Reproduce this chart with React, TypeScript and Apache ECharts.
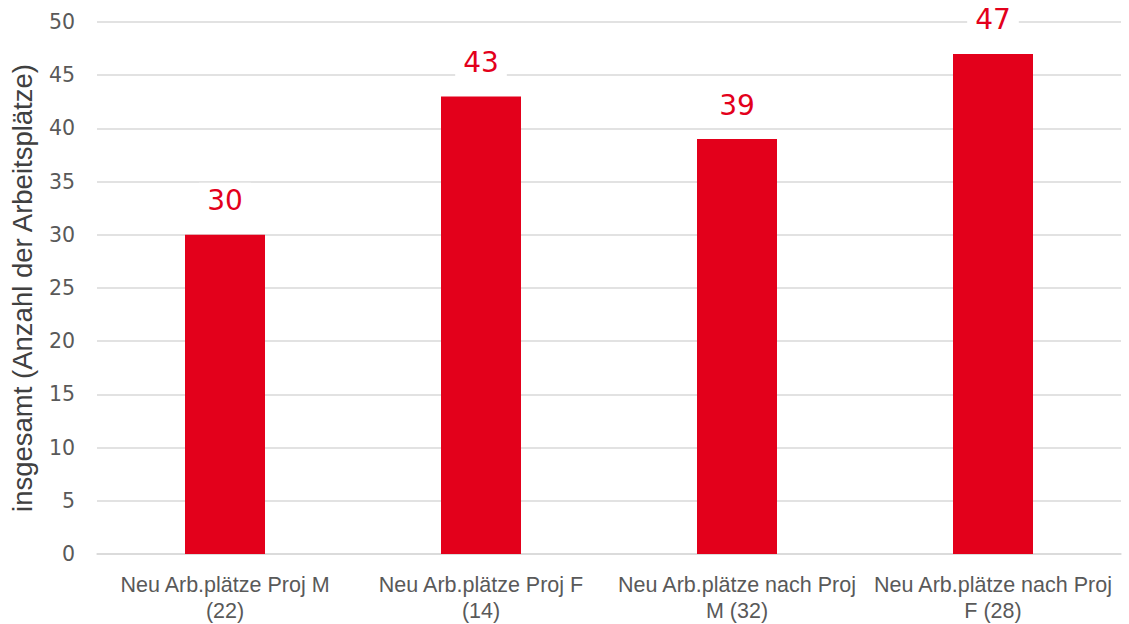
import React, { useEffect, useRef } from "react";
import * as echarts from "echarts";

const categories = [
  "Neu Arb.plätze Proj M\n(22)",
  "Neu Arb.plätze Proj F\n(14)",
  "Neu Arb.plätze nach Proj\nM (32)",
  "Neu Arb.plätze nach Proj\nF (28)",
];
const values = [30, 43, 39, 47];
const yAxisTitle = "insgesamt (Anzahl der Arbeitsplätze)";

const textFont = "'Liberation Sans', Arial, sans-serif";
const digitFont = "'DejaVu Sans', 'Liberation Sans', sans-serif";

export default function App() {
  const ref = useRef<HTMLDivElement>(null);

  useEffect(() => {
    if (!ref.current) return;
    const chart = echarts.init(ref.current, undefined, { renderer: "svg" });
    chart.setOption({
      animation: false,
      backgroundColor: "#ffffff",
      grid: {
        left: 97,
        right: 8,
        top: 22,
        bottom: 70,
        containLabel: false,
        outerBoundsMode: "none",
      },
      xAxis: {
        type: "category",
        data: categories,
        axisLine: { show: true, lineStyle: { color: "#d9d9d9", width: 1.5 } },
        axisTick: { show: false },
        axisLabel: {
          color: "#595959",
          fontFamily: textFont,
          fontSize: 21.5,
          lineHeight: 26,
          margin: 18,
          interval: 0,
        },
      },
      yAxis: {
        type: "value",
        min: 0,
        max: 50,
        interval: 5,
        name: yAxisTitle,
        nameLocation: "middle",
        nameGap: 61,
        nameTextStyle: {
          color: "#404040",
          fontFamily: textFont,
          fontSize: 27.5,
        },
        axisLine: { show: false },
        axisTick: { show: false },
        axisLabel: {
          color: "#595959",
          fontFamily: digitFont,
          fontSize: 20.5,
          margin: 22,
        },
        splitLine: { lineStyle: { color: "#d9d9d9", width: 1.5 } },
      },
      series: [
        {
          type: "bar",
          data: values,
          barWidth: 80,
          itemStyle: { color: "#e3001b" },
          label: {
            show: true,
            position: "top",
            distance: 16,
            color: "#e3001b",
            fontFamily: digitFont,
            fontSize: 28,
            backgroundColor: "#ffffff",
            padding: [4, 8, 4, 8],
          },
        },
      ],
    });
    return () => chart.dispose();
  }, []);

  return (
    <div
      ref={ref}
      style={{ position: "fixed", left: 0, top: 0, width: 1129, height: 624 }}
    />
  );
}
